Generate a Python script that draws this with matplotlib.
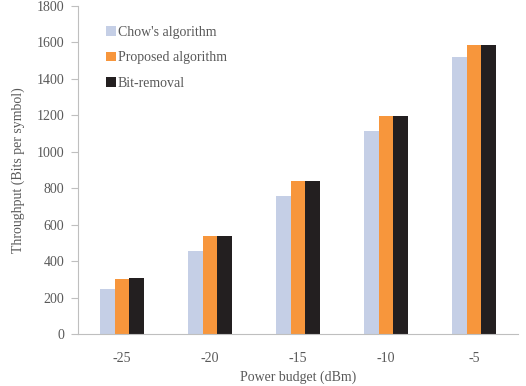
import matplotlib
matplotlib.use("Agg")
import matplotlib.pyplot as plt
import numpy as np

# Values
power_budget = ["-25", "-20", "-15", "-10", "-5"]
chow = [245, 455, 755, 1115, 1522]
proposed = [300, 538, 840, 1196, 1585]
bit_removal = [305, 538, 840, 1196, 1585]

series_names = ["Chow's algorithm", "Proposed algorithm", "Bit-removal"]
colors = ["#c5cfe6", "#f7963c", "#231f20"]

plt.rcParams["font.family"] = ["Liberation Serif", "DejaVu Serif"]
text_grey = "#595959"
axis_grey = "#bfbfbf"

fig = plt.figure(figsize=(5.26, 3.86), dpi=100)
ax = fig.add_axes([78 / 526, 52 / 386, 440 / 526, 328 / 386])

x = np.arange(len(power_budget))
width = 0.17
for i, (vals, name, col) in enumerate(zip([chow, proposed, bit_removal], series_names, colors)):
    ax.bar(x + (i - 1) * width, vals, width, color=col, label=name, edgecolor="none")

ax.set_xlim(-0.5, len(power_budget) - 0.5)
ax.set_ylim(0, 1800)
ax.set_yticks(np.arange(0, 1801, 200))
ax.set_xticks(x)
ax.set_xticklabels(power_budget)

for side in ("top", "right"):
    ax.spines[side].set_visible(False)
for side in ("left", "bottom"):
    ax.spines[side].set_color(axis_grey)
    ax.spines[side].set_linewidth(0.8)

ax.tick_params(axis="y", colors=text_grey, labelsize=10, length=5, width=0.8, color=axis_grey, pad=5)
ax.tick_params(axis="x", colors=text_grey, labelsize=10, length=0, pad=13)

ax.set_ylabel("Throughput (Bits per symbol)", color=text_grey, fontsize=10, labelpad=8)
ax.set_xlabel("Power budget (dBm)", color=text_grey, fontsize=10, labelpad=4)

leg = ax.legend(loc="upper left", bbox_to_anchor=(0.045, 0.965), frameon=False,
                fontsize=10, handlelength=0.7, handleheight=0.7, handletextpad=0.15,
                labelspacing=0.9, labelcolor=text_grey, borderaxespad=0.2)

fig.savefig("out.png", dpi=100)
